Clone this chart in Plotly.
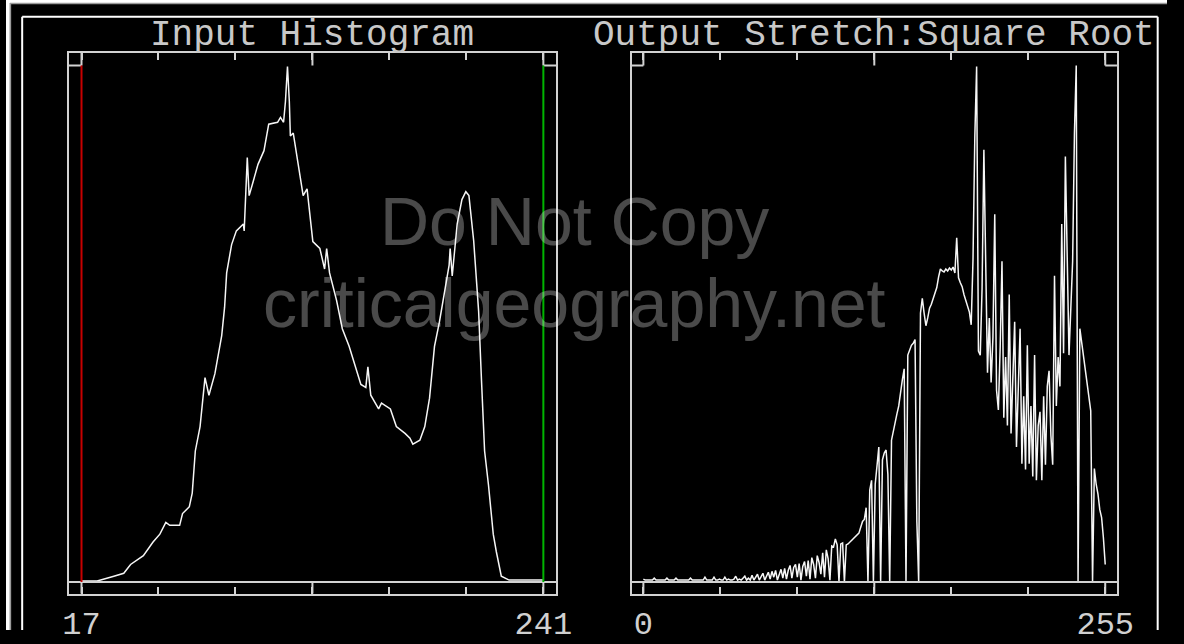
import plotly.graph_objects as go

W, H = 1184, 644

# ---------------- data ----------------
titles = ["Input Histogram", "Output Stretch:Square Root"]
watermark = ["Do Not Copy", "criticalgeography.net"]

in_min, in_max = 17, 241
out_min, out_max = 0, 255
in_ticklabels = ["17", "241"]
out_ticklabels = ["0", "255"]

# input histogram (traced): input DN vs relative frequency
in_dn = [17.0, 24.6, 32.7, 37.5, 40.8, 47.0, 51.7, 55.0, 57.9, 59.8, 64.6, 66.0, 69.3, 70.7,
         72.2, 74.5, 76.9, 78.8, 81.7, 85.0, 86.4, 87.4, 89.8, 92.1, 95.5, 95.9, 97.4, 98.3,
         100.2, 102.6, 105.5, 107.8, 112.1, 113.5, 115.0, 115.9, 116.9, 117.8, 118.3, 119.7,
         122.1, 124.5, 126.4, 129.2, 132.6, 134.9, 135.9, 137.3, 140.7, 143.5, 146.8, 149.2,
         152.5, 154.9, 155.9, 157.3, 161.1, 162.5, 166.8, 169.7, 173.9, 176.3, 177.7, 181.1,
         183.5, 185.8, 188.2, 190.6, 193.0, 195.3, 195.8, 196.8, 199.2, 201.5, 203.4, 204.9,
         207.2, 209.6, 211.0, 212.5, 214.4, 216.7, 218.2, 220.6, 224.4, 241.0]
in_freq = [1, 1, 6, 9, 18, 27, 41, 49, 61, 58, 58, 70, 77, 91,
           134, 159, 209, 191, 213, 252, 281, 316, 345, 359, 366, 359, 434, 395,
           409, 427, 441, 468, 470, 475, 470, 491, 527, 491, 456, 459,
           427, 395, 402, 348, 341, 320, 341, 316, 288, 259, 241, 224,
           202, 199, 220, 191, 177, 183, 177, 159, 152, 147, 141, 145,
           159, 188, 241, 266, 295, 324, 341, 313, 366, 391, 399, 395,
           349, 277, 206, 134, 99, 49, 31, 6, 2, 2]

# output histogram after square-root stretch, one value per output DN 0..255
out_dn = list(range(256))
out_freq = [
    3, 2, 2, 2, 2, 2, 4, 2, 2, 2,
    2, 2, 2, 4, 2, 2, 2, 2, 4, 2,
    2, 2, 2, 2, 2, 2, 4, 2, 2, 2,
    2, 2, 2, 2, 5, 2, 2, 2, 2, 5,
    2, 2, 3, 2, 2, 5, 2, 3, 2, 2,
    3, 6, 2, 3, 2, 4, 6, 2, 4, 2,
    7, 2, 5, 8, 2, 6, 9, 2, 7, 10,
    3, 11, 5, 12, 2, 9, 13, 4, 14, 3,
    12, 17, 4, 15, 18, 5, 19, 2, 16, 21,
    6, 22, 3, 25, 18, 4, 27, 20, 8, 30,
    5, 33, 24, 2, 37, 36, 44, 38, 0, 39,
    40, 0, 38, 39, 41, 43, 45, 47, 48, 50,
    56, 62, 64, 76, 0, 94, 104, 0, 100, 118,
    138, 0, 125, 132, 135, 110, 0, 145, 155, 163,
    172, 180, 195, 207, 218, 0, 232, 238, 242, 244,
    248, 62, 0, 275, 290, 275, 262, 270, 280, 284,
    290, 296, 301, 312, 320, 318, 317, 320, 318, 321,
    319, 322, 316, 352, 311, 306, 302, 294, 288, 282,
    276, 263, 330, 455, 527, 236, 232, 300, 442, 328,
    214, 270, 204, 250, 376, 196, 176, 240, 328, 168,
    230, 160, 294, 152, 215, 266, 138, 200, 259, 121,
    190, 115, 242, 121, 180, 108, 232, 104, 160, 174,
    104, 190, 120, 200, 216, 150, 120, 313, 180, 230,
    200, 366, 234, 435, 321, 232, 280, 328, 459, 528,
    0, 259, 245, 232, 215, 204, 190, 175, 0, 116,
    100, 90, 74, 66, 45, 18,
]

# ---------------- styling / layout ----------------
BOX = "#d2d2d2"
LINE = "#f6f6f6"
MONO = "Liberation Mono, DejaVu Sans Mono, monospace"

Y_LO, Y_TOP_INNER, Y_HI = -12, 528, 541


def pxx(p):
    return p / W


def pxy(p):
    return 1 - p / H


panels = [
    dict(xa="x", ya="y", lo=in_min, hi=in_max, dom=[pxx(64), pxx(561)],
         rng=[in_min - 13 / (471 / 224), in_max + 13 / (471 / 224)], labels=in_ticklabels,
         cx=312.5, title=titles[0]),
    dict(xa="x2", ya="y2", lo=out_min, hi=out_max, dom=[pxx(638), pxx(1133)],
         rng=[out_min - 12 / (471 / 255), out_max + 12 / (471 / 255)], labels=out_ticklabels,
         cx=885.5, title=titles[1]),
]

fig = go.Figure()
fig.add_trace(go.Scatter(x=in_dn, y=in_freq, mode="lines", xaxis="x", yaxis="y",
                         line=dict(color=LINE, width=1.5), hoverinfo="skip", showlegend=False))
fig.add_trace(go.Scatter(x=out_dn, y=out_freq, mode="lines", xaxis="x2", yaxis="y2",
                         line=dict(color=LINE, width=1.5), hoverinfo="skip", showlegend=False))

shapes = []
annotations = []
ydom = [pxy(607), pxy(54)]
layout_axes = {}
for i, p in enumerate(panels):
    sfx = "" if i == 0 else "2"
    step = (p["hi"] - p["lo"]) / 6
    tv = [p["lo"] + k * step for k in range(7)]
    tt = [p["labels"][0], "", "", "", "", "", p["labels"][1]]
    layout_axes["xaxis" + sfx] = dict(
        domain=p["dom"], range=p["rng"], anchor="y" + sfx, showgrid=False, zeroline=False,
        showline=True, linecolor=BOX, linewidth=2, mirror="ticks",
        ticks="inside", ticklen=7, tickwidth=2, tickcolor=BOX,
        tickmode="array", tickvals=tv, ticktext=tt,
        tickfont=dict(family=MONO, size=32, color="#d0d0d0"), fixedrange=True,
    )
    layout_axes["yaxis" + sfx] = dict(
        domain=ydom, range=[Y_LO, Y_HI], anchor="x" + sfx, showgrid=False, zeroline=False,
        showline=True, linecolor=BOX, linewidth=2, mirror=True, ticks="",
        showticklabels=False, fixedrange=True,
    )
    xr0, xr1 = p["rng"]
    mid = tv[3]
    segs = [
        (xr0, 0, xr1, 0),                       # baseline
        (p["lo"], Y_LO, p["lo"], 0),            # bottom corner marks
        (p["hi"], Y_LO, p["hi"], 0),
        (p["lo"], Y_TOP_INNER, p["lo"], Y_HI),  # top corner squares
        (p["hi"], Y_TOP_INNER, p["hi"], Y_HI),
        (xr0, Y_TOP_INNER, p["lo"], Y_TOP_INNER),
        (p["hi"], Y_TOP_INNER, xr1, Y_TOP_INNER),
        (mid, Y_LO, mid, 0),                    # long middle ticks
        (mid, Y_TOP_INNER, mid, Y_HI),
    ]
    for x0, y0, x1, y1 in segs:
        shapes.append(dict(type="line", xref=p["xa"], yref=p["ya"], x0=x0, y0=y0, x1=x1, y1=y1,
                           line=dict(color=BOX, width=2)))
    annotations.append(dict(text=p["title"], xref="paper", yref="paper", x=pxx(p["cx"]),
                            y=pxy(36), xanchor="center", yanchor="middle", showarrow=False,
                            font=dict(family=MONO, size=36, color="#c8c8c8")))

# stretch limits on the input histogram
shapes.append(dict(type="line", xref="x", yref="y", x0=in_min, x1=in_min, y0=0, y1=Y_TOP_INNER,
                   line=dict(color="#c80000", width=2)))
shapes.append(dict(type="line", xref="x", yref="y", x0=in_max, x1=in_max, y0=0, y1=Y_TOP_INNER,
                   line=dict(color="#00b400", width=2)))

# page frame
shapes += [
    dict(type="rect", xref="paper", yref="paper", x0=0, x1=1, y0=pxy(3), y1=1,
         fillcolor="white", line=dict(width=0), layer="below"),
    dict(type="rect", xref="paper", yref="paper", x0=0, x1=pxx(4), y0=0, y1=1,
         fillcolor="white", line=dict(width=0), layer="below"),
    dict(type="line", xref="paper", yref="paper", x0=pxx(4), x1=1, y0=pxy(3.5), y1=pxy(3.5),
         line=dict(color="#9a9a9a", width=1.5)),
    dict(type="line", xref="paper", yref="paper", x0=pxx(4.5), x1=pxx(4.5), y0=0, y1=pxy(3),
         line=dict(color="#9a9a9a", width=1.5)),
    dict(type="line", xref="paper", yref="paper", x0=pxx(16.5), x1=pxx(16.5), y0=0, y1=pxy(17),
         line=dict(color="white", width=2)),
    dict(type="line", xref="paper", yref="paper", x0=pxx(16.5), x1=pxx(1174.5), y0=pxy(17), y1=pxy(17),
         line=dict(color="white", width=2)),
    dict(type="line", xref="paper", yref="paper", x0=pxx(1174.5), x1=pxx(1174.5), y0=0, y1=pxy(17),
         line=dict(color="white", width=2)),
]

# watermark
for txt, cy in zip(watermark, [226, 310]):
    annotations.append(dict(text=txt, xref="paper", yref="paper", x=pxx(580), y=pxy(cy),
                            xanchor="center", yanchor="middle", showarrow=False,
                            font=dict(family="Liberation Sans, Arial, sans-serif", size=68,
                                      color="rgba(255,255,255,0.29)")))

fig.update_layout(
    width=W, height=H, autosize=False,
    margin=dict(l=0, r=0, t=0, b=0),
    paper_bgcolor="black", plot_bgcolor="black",
    showlegend=False, shapes=shapes, annotations=annotations,
    **layout_axes,
)

fig.write_html(
    "out.html",
    config={"displayModeBar": False},
    post_script="document.body.style.margin='0';document.body.style.padding='0';"
                "document.body.style.overflow='hidden';"
                "document.documentElement.style.overflow='hidden';",
)
